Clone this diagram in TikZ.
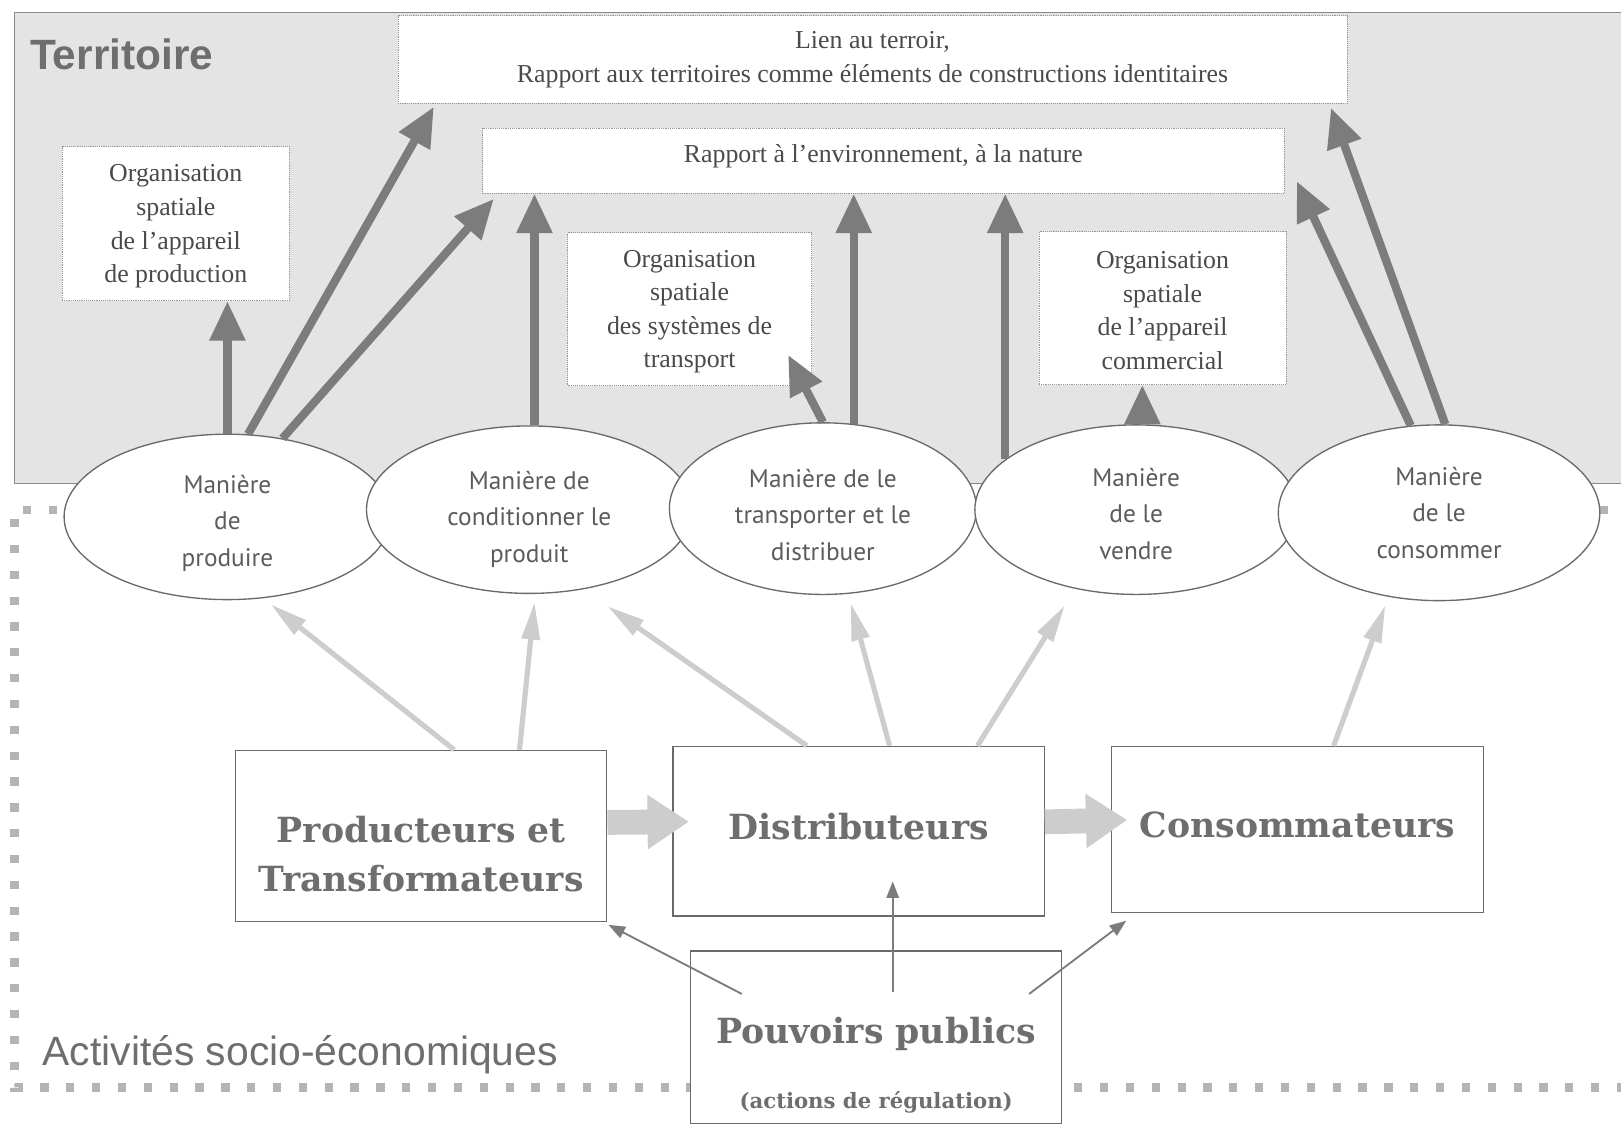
\documentclass[tikz,border=0pt]{standalone}
\usepackage{fontspec}
\setmainfont{Liberation Serif}
\newfontfamily\arialf{Liberation Sans}
\newfontfamily\handf{PT Sans}
\newfontfamily\slabf{DejaVu Serif}
\usetikzlibrary{arrows.meta,shapes.geometric}
\definecolor{terrfill}{HTML}{E4E4E4}
\definecolor{terrline}{HTML}{8A8A8A}
\definecolor{darkarr}{HTML}{7C7C7C}
\definecolor{lightarr}{HTML}{CDCDCD}
\definecolor{txtgray}{HTML}{4A4A4A}
\definecolor{titlegray}{HTML}{6E6E6E}
\definecolor{dotgray}{HTML}{B4B4B4}
\definecolor{boxline}{HTML}{6A6A6A}
\newcommand\tdown[1]{\rule{0pt}{#1pt}}
\tikzset{
  tbox/.style={draw=boxline!70, densely dotted, line width=0.8pt, fill=white, inner sep=0pt},
  ttext/.style={font=\fontsize{25}{32.5}\selectfont, text=txtgray, align=center, inner sep=0pt},
  ell/.style={ellipse, draw=boxline, line width=1.3pt, fill=white, inner sep=0pt,
     font=\handf\fontsize{24.5}{35.5}\selectfont, text=txtgray!90, align=center},
  bbox/.style={draw=boxline, line width=1.2pt, fill=white, inner sep=0pt},
  btext/.style={font=\slabf\bfseries\fontsize{33.5}{48}\selectfont, text=titlegray, align=center, inner sep=0pt},
  darrow/.style={draw=darkarr, line width=8pt, -{Triangle[width=33pt,length=38pt]}},
  larrow/.style={draw=lightarr, line width=5pt, -{Triangle[width=17pt,length=36pt]}},
  fatarrow/.style={draw=lightarr, line width=24pt, -{Triangle[width=50pt,length=40pt]}},
  thinarrow/.style={draw=darkarr, line width=1.8pt, -{Triangle[width=12pt,length=16pt]}},
}
\begin{document}
\begin{tikzpicture}[x=1pt,y=-1pt]
\useasboundingbox (0,0) rectangle (1568,1089);
% socio-economic dotted frame
\draw[dotgray, line width=8pt, dash pattern=on 8pt off 17pt] (1580,493) -- (14,493) -- (14,1052) -- (1580,1052);
% territory
\fill[terrfill] (14,12) rectangle (1575,468);
\draw[terrline, line width=1.2pt] (1575,12) -- (14,12) -- (14,468) -- (1575,468);
\node[font=\arialf\bfseries\fontsize{41}{41}\selectfont, text=titlegray, anchor=base west, inner sep=0pt] (terr) at (29,67) {Territoire};
\node[font=\arialf\fontsize{39.5}{40}\selectfont, text=titlegray, anchor=base west, inner sep=0pt] (act) at (41,1031) {Activités socio-économiques};
% top boxes
\node[tbox, minimum width=918, minimum height=85] (lien) at (844,57.5) {};
\node[ttext] (lientxt) at (844,58) {Lien au terroir,\\Rapport aux territoires comme éléments de constructions identitaires};
\node[tbox, minimum width=775, minimum height=63] (env) at (854.5,155.5) {};
\node[ttext] (envtxt) at (854.5,151) {Rapport à l’environnement, à la nature};
\node[tbox, minimum width=220, minimum height=149] (org1) at (170,216.5) {};
\node[ttext] (org1txt) at (170,219) {Organisation\\spatiale\\de l’appareil\\de production};
\node[tbox, minimum width=236, minimum height=148] (org2) at (667,299) {};
\node[ttext] (org2txt) at (667,301.5) {Organisation\\spatiale\\des systèmes de\\transport};
\node[tbox, minimum width=239, minimum height=148] (org3) at (1124.5,298) {};
\node[ttext] (org3txt) at (1124.5,300.5) {Organisation\\spatiale\\de l’appareil\\commercial};
% ellipses
\node[ell, minimum width=316, minimum height=160] (e1) at (220,500) {\tdown{30}Manière\\de\\produire};
\node[ell, minimum width=315, minimum height=162] (e2) at (512,493) {\tdown{36}Manière de\\conditionner le\\produit};
\node[ell, minimum width=297, minimum height=166] (e3) at (796,492) {\tdown{30}Manière de le\\transporter et le\\distribuer};
\node[ell, minimum width=312, minimum height=164] (e4) at (1099,493) {\tdown{26}Manière\\de le\\vendre};
\node[ell, minimum width=311, minimum height=170] (e5) at (1392,496) {Manière\\de le\\consommer};
% dark arrows
\draw[darrow] (e1.north) -- (e1.north |- org1.south);
\draw[darrow] (e1.76) -- ([xshift=35pt,yshift=-3pt]lien.south west);
\draw[darrow] (e1.55) -- ([xshift=11pt,yshift=-5pt]env.south west);
\draw[darrow] ([xshift=5pt]e2.north) -- ([xshift=5pt]e2.north |- env.south);
\draw[darrow] (e3.north) -- ([xshift=-23pt,yshift=30pt]org2.south east);
\draw[darrow] (e3.70) -- (e3.70 |- env.south);
\draw[darrow] (e4.159) -- (e4.159 |- env.south);
\draw[darrow] ([xshift=6pt]e4.north) -- ([xshift=6pt]e4.north |- org3.south);
\draw[darrow] (e5.108) -- ([xshift=12pt,yshift=12pt]env.south east);
\draw[darrow] (e5.86) -- ([xshift=-16pt,yshift=-4pt]lien.south east);
% bottom boxes
\node[bbox, minimum width=359, minimum height=165] (prod) at (407.5,808.5) {};
\node[btext] (prodtxt) at (407.5,826) {Producteurs et\\Transformateurs};
\node[bbox, minimum width=359, minimum height=164] (dist) at (830.5,804) {};
\node[btext] (disttxt) at (830.5,800) {Distributeurs};
\node[bbox, minimum width=360, minimum height=161] (cons) at (1255,802.5) {};
\node[btext] (constxt) at (1255,798) {Consommateurs};
\node[bbox, minimum width=359, minimum height=167] (pouv) at (847.5,1003.5) {};
\node[btext] (pouvtxt) at (847.5,1000) {Pouvoirs publics};
\node[font=\slabf\bfseries\fontsize{20.5}{22}\selectfont, text=titlegray, inner sep=0pt] (regtxt) at (847.5,1066) {(actions de régulation)};
% light arrows
\draw[larrow] ([xshift=32pt]prod.north) -- ([xshift=42pt,yshift=-4pt]e1.south);
\draw[larrow] ([xshift=95pt]prod.north) -- ([xshift=5pt,yshift=-8pt]e2.south);
\draw[larrow] ([xshift=-50pt]dist.north) -- ([xshift=76pt,yshift=-12pt]e2.south);
\draw[larrow] ([xshift=30pt]dist.north) -- ([xshift=27pt,yshift=-8pt]e3.south);
\draw[larrow] ([xshift=115pt]dist.north) -- ([xshift=-69pt,yshift=-10pt]e4.south);
\draw[larrow] ([xshift=35pt]cons.north) -- ([xshift=-52pt,yshift=-4pt]e5.south);
% fat arrows
\draw[fatarrow, shorten >=-16pt] ([yshift=13pt]prod.east) -- ([yshift=9pt]dist.west);
\draw[fatarrow, shorten >=-16pt] ([yshift=9pt]dist.east) -- ([yshift=9pt]cons.west);
% regulation arrows
\draw[thinarrow] ([xshift=-130pt,yshift=-42pt]pouv.north) -- ([xshift=1pt,yshift=-3pt]prod.south east);
\draw[thinarrow] ([xshift=16pt,yshift=-40pt]pouv.north) -- ([xshift=16pt,yshift=34pt]pouv.north |- dist.south);
\draw[thinarrow] ([xshift=148pt,yshift=-42pt]pouv.north) -- ([xshift=15pt,yshift=-7pt]cons.south west);
\end{tikzpicture}
\end{document}
